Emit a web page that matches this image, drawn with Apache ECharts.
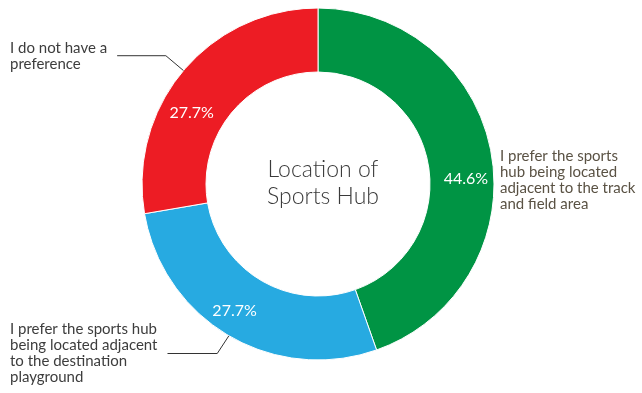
<!DOCTYPE html>
<html>
<head>
<meta charset="utf-8">
<title>Location of Sports Hub</title>
<script src="https://cdn.jsdelivr.net/npm/echarts@6/dist/echarts.min.js"></script>
<style>
  html, body { margin: 0; padding: 0; background: #ffffff; }
  #chart { width: 642px; height: 393px; }
</style>
</head>
<body>
<div id="chart"></div>
<script>
// Survey answers, clockwise from 12 o'clock
const categories = [
  'I prefer the sports hub being located adjacent to the track and field area',
  'I prefer the sports hub being located adjacent to the destination playground',
  'I do not have a preference'
];
// Wrapped text for the outside labels
const labelTexts = [
  'I prefer the sports\nhub being located\nadjacent to the track\nand field area',
  'I prefer the sports hub\nbeing located adjacent\nto the destination\nplayground',
  'I do not have a\npreference'
];
// Share of respondents, %
const values = [44.6, 27.7, 27.7];
const colors = ['#009444', '#27aae1', '#ed1c24'];

const CENTER = [318, 184];
const RADIUS = [112, 176];

// nudges for the percentage labels inside the ring
const insideOffsets = [[3, 20], [-9, 0], [-14, 24]];

const chart = echarts.init(document.getElementById('chart'), null, { renderer: 'canvas' });

const ringData = categories.map((name, i) => ({
  name: name,
  value: values[i],
  itemStyle: { color: colors[i] }
}));

const outerData = categories.map((name, i) => ({
  name: name,
  value: values[i],
  label: i === 0
    ? { color: '#5a5244', padding: 0, width: 150, overflow: 'none', align: 'left' }
    : {},
  labelLine: { show: i !== 0 }
}));

chart.setOption({
  animation: false,
  backgroundColor: '#ffffff',
  title: {
    text: 'Location of\nSports Hub',
    left: 318,
    top: 151,
    textAlign: 'center',
    textStyle: {
      fontFamily: 'Lato',
      fontWeight: 300,
      fontSize: 23,
      lineHeight: 27,
      color: '#3a3a3a'
    }
  },
  series: [
    {
      type: 'pie',
      center: CENTER,
      radius: RADIUS,
      startAngle: 90,
      clockwise: true,
      silent: true,
      data: ringData,
      itemStyle: { borderColor: '#ffffff', borderWidth: 1 },
      label: {
        show: true,
        position: 'inside',
        formatter: '{c}%',
        color: '#ffffff',
        fontFamily: 'Lato',
        fontSize: 16
      },
      labelLine: { show: false },
      labelLayout: function (params) {
        const o = insideOffsets[params.dataIndex];
        return { dx: o[0], dy: o[1] };
      }
    },
    {
      type: 'pie',
      center: CENTER,
      radius: RADIUS,
      startAngle: 90,
      clockwise: true,
      silent: true,
      z: 3,
      data: outerData,
      itemStyle: { color: 'rgba(0,0,0,0)' },
      label: {
        show: true,
        position: 'outside',
        alignTo: 'edge',
        edgeDistance: 10,
        distanceToLabelLine: 10,
        padding: [13, 0, 0, 0],
        formatter: (p) => labelTexts[p.dataIndex],
        color: '#3d3d3d',
        fontFamily: 'Lato',
        fontSize: 15,
        lineHeight: 16
      },
      labelLine: {
        show: true,
        length: 23,
        length2: 20,
        lineStyle: { color: '#333333', width: 1 }
      },
      labelLayout: function (params) {
        if (params.dataIndex === 0) {
          return { x: 500, y: 148, align: 'left', verticalAlign: 'top' };
        }
        return {};
      }
    }
  ]
});
</script>
</body>
</html>
